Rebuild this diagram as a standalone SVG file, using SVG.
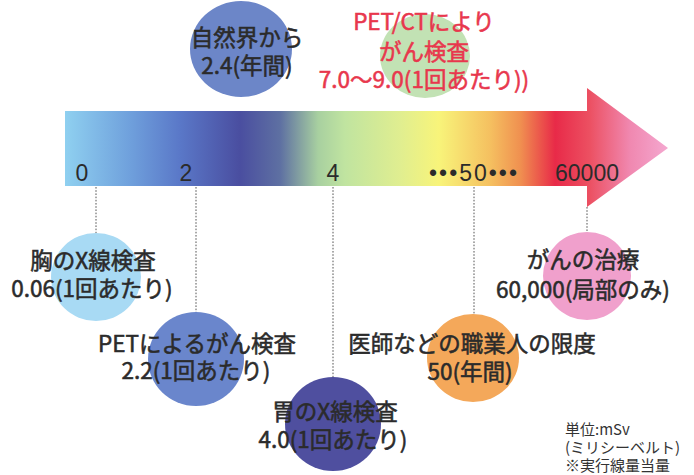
<svg xmlns="http://www.w3.org/2000/svg" width="694" height="475" viewBox="0 0 694 475">
  <defs>
    <linearGradient id="spectrum" gradientUnits="userSpaceOnUse" x1="65" y1="0" x2="668" y2="0">
      <stop offset="0" stop-color="#8fd0f0"/>
      <stop offset="0.108" stop-color="#6fa0dc"/>
      <stop offset="0.19" stop-color="#5a78c8"/>
      <stop offset="0.29" stop-color="#4a4ea0"/>
      <stop offset="0.357" stop-color="#5e70a2"/>
      <stop offset="0.42" stop-color="#a8d0a0"/>
      <stop offset="0.464" stop-color="#c0e4a0"/>
      <stop offset="0.556" stop-color="#e0ee90"/>
      <stop offset="0.62" stop-color="#f8f47a"/>
      <stop offset="0.705" stop-color="#f5c060"/>
      <stop offset="0.755" stop-color="#f09050"/>
      <stop offset="0.813" stop-color="#e82a48"/>
      <stop offset="0.87" stop-color="#ec5062"/>
      <stop offset="0.937" stop-color="#f088b0"/>
      <stop offset="1" stop-color="#f4a8d0"/>
    </linearGradient>
  </defs>
  <style>
    text { font-family: "Noto Sans CJK JP", "Noto Sans", sans-serif; }
    .lbl { font-size: 22.5px; fill: #2b2b2b; stroke: #2b2b2b; stroke-width: 0.55; text-anchor: middle; }
    .red { font-size: 22.5px; fill: #e8374d; stroke: #e8374d; stroke-width: 0.55; text-anchor: middle; }
    .tick { font-size: 23px; fill: #2b2b2b; text-anchor: middle; font-family: "Liberation Sans", "Noto Sans CJK JP", sans-serif; }
    .unit { font-size: 15px; fill: #333333; }
    .dot { stroke: #555555; stroke-width: 1; stroke-dasharray: 1.6 1.6; fill: none; }
  </style>
  <rect width="694" height="475" fill="#ffffff"/>

  <g id="node-natural">
    <ellipse cx="241" cy="49" rx="51" ry="48" fill="#6c86c8"/>
    <text class="lbl" x="247" y="46">自然界から</text>
    <text class="lbl" x="247" y="74">2.4(年間)</text>
  </g>
  <g id="node-petct">
    <ellipse cx="425" cy="56" rx="45" ry="42" fill="#c2e2b4"/>
    <text class="red" x="424" y="30">PET/CTにより</text>
    <text class="red" x="424" y="60">がん検査</text>
    <text class="red" x="424" y="88">7.0〜9.0(1回あたり))</text>
  </g>

  <g id="scale-arrow">
    <polygon points="65,111 587,111 587,88 668,148 587,207 587,186 65,186" fill="url(#spectrum)"/>
    <text class="tick" x="82" y="181">0</text>
    <text class="tick" x="186" y="181">2</text>
    <text class="tick" x="333" y="181">4</text>
    <text class="tick" x="474" y="181" letter-spacing="2">•••50•••</text>
    <text class="tick" x="587" y="181">60000</text>
  </g>

  <g id="connectors">
    <line class="dot" x1="96" y1="187" x2="96" y2="233"/>
    <line class="dot" x1="196" y1="187" x2="196" y2="312"/>
    <line class="dot" x1="333" y1="187" x2="333" y2="377"/>
    <line class="dot" x1="474" y1="187" x2="474" y2="314"/>
    <line class="dot" x1="587" y1="207" x2="587" y2="232"/>
  </g>

  <g id="node-chest">
    <ellipse cx="96" cy="277" rx="45" ry="44" fill="#a8daf4"/>
    <text class="lbl" x="93" y="269">胸のX線検査</text>
    <text class="lbl" x="92" y="297">0.06(1回あたり)</text>
  </g>
  <g id="node-pet">
    <ellipse cx="196" cy="359" rx="48" ry="47" fill="#6a86cc"/>
    <text class="lbl" x="197" y="352">PETによるがん検査</text>
    <text class="lbl" x="196" y="379">2.2(1回あたり)</text>
  </g>
  <g id="node-stomach">
    <ellipse cx="333" cy="424" rx="48" ry="47" fill="#4f4f9f"/>
    <text class="lbl" x="335" y="420">胃のX線検査</text>
    <text class="lbl" x="333" y="448">4.0(1回あたり)</text>
  </g>
  <g id="node-worker">
    <ellipse cx="473" cy="358" rx="46" ry="44" fill="#f4a85a"/>
    <text class="lbl" x="472" y="352">医師などの職業人の限度</text>
    <text class="lbl" x="470" y="380">50(年間)</text>
  </g>
  <g id="node-cancer">
    <ellipse cx="587" cy="276" rx="44" ry="44" fill="#f0a0cc"/>
    <text class="lbl" x="583" y="268">がんの治療</text>
    <text class="lbl" x="583" y="298">60,000(局部のみ)</text>
  </g>

  <g id="unit-note">
    <text class="unit" x="565" y="435">単位:mSv</text>
    <text class="unit" x="565" y="453">(ミリシーベルト)</text>
    <text class="unit" x="565" y="471">※実行線量当量</text>
  </g>
</svg>
